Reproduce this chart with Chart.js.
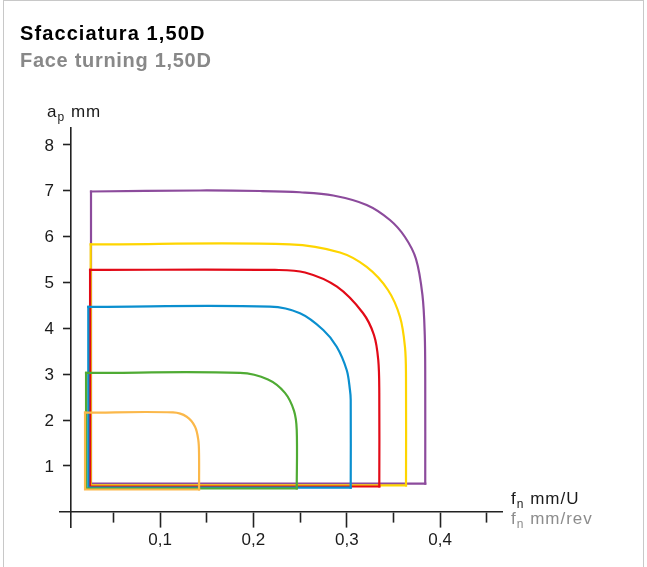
<!DOCTYPE html>
<html lang="it">
<head>
<meta charset="utf-8">
<title>Sfacciatura 1,50D</title>
<script src="https://cdn.jsdelivr.net/npm/chart.js@4.4.1/dist/chart.umd.min.js"></script>
<style>
    body { margin: 0; background: #fff; font-family: "Liberation Sans", Arial, Helvetica, sans-serif; }
    #contenitore { position: relative; width: 647px; height: 567px; overflow: hidden; }
    #cornice { position: absolute; left: 3px; top: 0; width: 639px; height: 600px; border: 1.5px solid #c8c8c8; }
    canvas { position: absolute; left: 0; top: 0; }
    .testo { position: absolute; white-space: nowrap; line-height: 1; }
    .titolo { left: 20px; font-size: 20px; font-weight: bold; }
    .asse { font-size: 17px; letter-spacing: 1px; color: #1a1a1a; }
    .pedice { position: relative; top: 4px; font-size: 12px; letter-spacing: 0; margin-right: 1px; }
</style>
</head>
<body>
<div id="contenitore">
    <div id="cornice"></div>
    <canvas id="grafico" width="647" height="567"></canvas>
    <div class="testo titolo" style="top: 23px; color: #000; letter-spacing: 1.1px;">Sfacciatura 1,50D</div>
    <div class="testo titolo" style="top: 50px; color: #888; letter-spacing: 0.7px;">Face turning 1,50D</div>
    <div class="testo asse" style="left: 47px; top: 103px;">a<span class="pedice">p</span> mm</div>
    <div class="testo asse" style="left: 511px; top: 490px;">f<span class="pedice">n</span> mm/U</div>
    <div class="testo asse" style="left: 511px; top: 510px; color: #8c8c8c;">f<span class="pedice">n</span> mm/rev</div>
</div>
<script>
// tacche degli assi
var taccheX = [0.05, 0.1, 0.15, 0.2, 0.25, 0.3, 0.35, 0.4, 0.45];
var taccheY = [1, 2, 3, 4, 5, 6, 7, 8];
var assePosX = 0.0047; // l'asse ap non sta proprio su fn = 0

// contorno superiore di ogni campo: fn = avanzamento (mm/U), ap = profondita (mm)
// parte dallo spigolo in alto a sinistra e finisce sul lato destro verticale
var arancioFn = [0.0197, 0.1139, 0.1286, 0.1375, 0.1410, 0.1418];
var arancioAp = [2.160, 2.165, 2.072, 1.854, 1.564, 1.237];

var verdeFn = [0.0208, 0.1857, 0.2156, 0.2338, 0.2435, 0.2464];
var verdeAp = [3.026, 3.026, 2.884, 2.592, 2.199, 1.782];

var bluFn = [0.0232, 0.2178, 0.2499, 0.2748, 0.2892, 0.2999, 0.3034, 0.3042];
var bluAp = [4.470, 4.472, 4.328, 3.964, 3.599, 3.091, 2.655, 2.437];

var rossoFn = [0.0251, 0.2231, 0.2553, 0.2895, 0.3173, 0.3291, 0.3337, 0.3348];
var rossoAp = [5.275, 5.273, 5.218, 4.908, 4.335, 3.855, 3.309, 2.589];

var gialloFn = [0.0258, 0.2392, 0.2927, 0.3213, 0.3441, 0.3570, 0.3623, 0.3634];
var gialloAp = [5.830, 5.832, 5.654, 5.338, 4.836, 4.247, 3.593, 2.938];

var violaFn = [0.0261, 0.1428, 0.2071, 0.2499, 0.2855, 0.3213, 0.3462, 0.3623, 0.3741, 0.3810, 0.3835, 0.3840];
var violaAp = [6.985, 7.007, 6.996, 6.968, 6.898, 6.691, 6.363, 5.992, 5.513, 4.727, 3.855, 2.873];

// ap del lato inferiore di ogni campo
var arancioFondo = 0.484;
var verdeFondo = 0.506;
var bluFondo = 0.524;
var rossoFondo = 0.550;
var gialloFondo = 0.572;
var violaFondo = 0.611;

var FONT = '"Liberation Sans", Arial, Helvetica, sans-serif';

function punti(fn, ap) {
    return fn.map(function (x, i) { return { x: x, y: ap[i] }; });
}

// ogni campo = contorno morbido (fino allo spigolo in basso a destra) + lati dritti che lo chiudono
function campo(fn, ap, fondo, colore) {
    var ultimo = fn.length - 1;
    var curva = {
        data: punti(fn.concat([fn[ultimo]]), ap.concat([fondo])),
        borderColor: colore,
        borderWidth: 2.2,
        borderCapStyle: 'square',
        pointRadius: 0,
        tension: 0.35,
        fill: false
    };
    var lati = {
        data: punti([fn[ultimo], fn[0], fn[0]], [fondo, fondo, ap[0]]),
        borderColor: colore,
        borderWidth: 2.2,
        borderCapStyle: 'square',
        borderJoinStyle: 'miter',
        pointRadius: 0,
        tension: 0,
        fill: false
    };
    return [curva, lati];
}

function principale(v) {
    return Math.abs(v * 10 - Math.round(v * 10)) < 1e-6;
}

// il primo dataset viene disegnato sopra gli altri
var datasets = [].concat(
    campo(arancioFn, arancioAp, arancioFondo, '#fbb84a'),
    campo(verdeFn, verdeAp, verdeFondo, '#4fab34'),
    campo(bluFn, bluAp, bluFondo, '#0a8fcf'),
    campo(rossoFn, rossoAp, rossoFondo, '#e20a17'),
    campo(gialloFn, gialloAp, gialloFondo, '#fed500'),
    campo(violaFn, violaAp, violaFondo, '#8c4b9c')
);

// etichette dell'asse ap: con l'asse posizionato su un valore Chart.js le mette sopra la linea
var etichetteY = {
    id: 'etichetteY',
    afterDraw: function (chart) {
        var c = chart.ctx;
        var xAsse = chart.scales.x.getPixelForValue(assePosX);
        c.save();
        c.font = '17px ' + FONT;
        c.fillStyle = '#1a1a1a';
        c.textAlign = 'right';
        c.textBaseline = 'middle';
        taccheY.forEach(function (v) {
            c.fillText(String(v), xAsse - 17, chart.scales.y.getPixelForValue(v) + 1);
        });
        c.restore();
    }
};

var ctx = document.getElementById('grafico').getContext('2d');
window.chart = new Chart(ctx, {
    type: 'line',
    data: { datasets: datasets },
    plugins: [etichetteY],
    options: {
        responsive: false,
        animation: false,
        devicePixelRatio: 1,
        layout: { padding: { left: 60, right: 145, top: 128, bottom: 40 } },
        plugins: {
            legend: { display: false },
            tooltip: { enabled: false }
        },
        scales: {
            x: {
                type: 'linear',
                min: -0.0071,
                max: 0.4662,
                position: { y: 0 },
                afterBuildTicks: function (scale) {
                    scale.ticks = taccheX.map(function (v) { return { value: v }; });
                },
                border: { color: '#222', width: 1.6 },
                grid: {
                    drawOnChartArea: false,
                    tickLength: 15,
                    tickWidth: 1.6,
                    tickColor: '#222',
                    tickBorderDash: function (c) {
                        return principale(c.tick.value) ? [] : [10, 40];
                    }
                },
                ticks: {
                    autoSkip: false,
                    maxRotation: 0,
                    padding: 3,
                    color: '#1a1a1a',
                    font: { family: FONT, size: 17 },
                    callback: function (v) {
                        return principale(v) ? v.toFixed(1).replace('.', ',') : '';
                    }
                }
            },
            y: {
                type: 'linear',
                min: -0.334,
                max: 8.37,
                position: { x: assePosX },
                afterBuildTicks: function (scale) {
                    scale.ticks = taccheY.map(function (v) { return { value: v }; });
                },
                border: { color: '#222', width: 1.6 },
                grid: {
                    drawOnChartArea: false,
                    tickLength: 7,
                    tickWidth: 1.6,
                    tickColor: '#222'
                },
                ticks: { display: false }
            }
        }
    }
});
</script>
</body>
</html>
